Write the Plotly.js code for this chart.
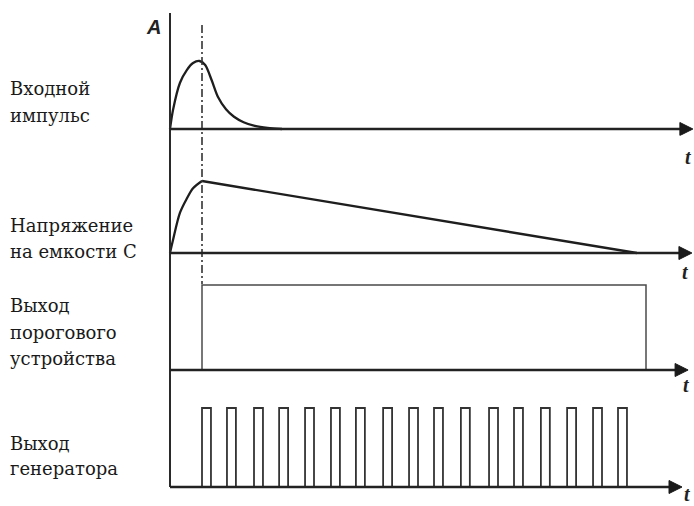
<!DOCTYPE html>
<html><head><meta charset="utf-8">
<script src="https://cdn.plot.ly/plotly-3.0.1.min.js"></script>
<style>html,body{margin:0;padding:0;background:#fff}</style>
</head><body>
<div id="chart" style="width:694px;height:506px"></div>
<script>
// Panel 1: input pulse
const tIn = [0, 0.094, 0.3125, 0.53, 0.72, 0.92, 1.1, 1.3, 1.5, 1.75, 2.0, 2.3, 2.65, 3.05, 3.5];
const vIn = [0, 0.28, 0.68, 0.87, 0.97, 1.0, 0.94, 0.72, 0.47, 0.29, 0.18, 0.10, 0.045, 0.015, 0];
// Panel 2: capacitor voltage (charge, then linear discharge)
const tCapRise = [0, 0.094, 0.3125, 0.53, 0.72, 1.0];
const vCapRise = [0, 0.18, 0.56, 0.76, 0.90, 1.0];
const tCapFall = [1.0, 14.59];
const vCapFall = [1.0, 0];
// Panel 3: threshold device output
const tThrOn = 1.0, tThrOff = 14.875, vThr = 1;
// Panel 4: generator pulses
const pulseStart = [1.0, 1.78, 2.625, 3.41, 4.22, 5.03, 5.81, 6.66, 7.47, 8.25, 9.09, 9.97, 10.75, 11.59, 12.41, 13.22, 14.0];
const pulseWidth = 0.28;
const pulseHeight = 1;
// Labels
const rowLabels = [
  ["Входной", 88], ["импульс", 116],
  ["Напряжение", 225], ["на емкости С", 252],
  ["Выход", 305], ["порогового", 332], ["устройства", 358],
  ["Выход", 443], ["генератора", 468]
];
const axisArrowTips = [16.34, 16.31, 16.19, 16.0];
const tLabelPos = [[688,157],[685,272],[686,385],[687,494]];

const W = 694, H = 506, ML = 164, MR = 0, MT = 5, MB = 5;
const plotW = W - ML - MR, plotH = H - MT - MB;
const py = p => (H - MB - p) / plotH;   // pixel y -> paper
const px = p => (p - ML) / plotW;       // pixel x -> paper

const pulseX = [], pulseY = [];
pulseStart.forEach(s => { pulseX.push(s, s, s + pulseWidth, s + pulseWidth, null); pulseY.push(0, pulseHeight, pulseHeight, 0, null); });

const traces = [
  {x: tIn, y: vIn, xaxis: 'x', yaxis: 'y', mode: 'lines', line: {color: '#1e1e1e', width: 2.3, shape: 'spline', smoothing: 0.8}},
  {x: tCapRise, y: vCapRise, xaxis: 'x', yaxis: 'y2', mode: 'lines', line: {color: '#1e1e1e', width: 2.3, shape: 'spline', smoothing: 0.9}},
  {x: tCapFall, y: vCapFall, xaxis: 'x', yaxis: 'y2', mode: 'lines', line: {color: '#1e1e1e', width: 2.4}},
  {x: [tThrOn, tThrOn, tThrOff, tThrOff], y: [0, vThr, vThr, 0], xaxis: 'x', yaxis: 'y3', mode: 'lines', line: {color: '#4a4a4a', width: 1.5}},
  {x: pulseX, y: pulseY, xaxis: 'x', yaxis: 'y4', mode: 'lines', line: {color: '#333', width: 1.8}}
];

const yax = (d) => ({domain: d, range: [-0.1, 1.2], visible: false, fixedrange: true, anchor: 'x'});
const yrefs = ['y', 'y2', 'y3', 'y4'];
const shapes = [];
// vertical axis
shapes.push({type: 'line', xref: 'x', yref: 'paper', x0: 0, x1: 0, y0: py(13), y1: py(487), line: {color: '#2a2a2a', width: 2}});
// dash-dot marker line
shapes.push({type: 'line', xref: 'x', yref: 'paper', x0: 1.0, x1: 1.0, y0: py(25), y1: py(284), line: {color: '#333', width: 1.6, dash: '8px,3px,2px,3px'}});
// baselines and arrowheads
yrefs.forEach((yr, i) => {
  shapes.push({type: 'line', xref: 'x', yref: yr, x0: 0, x1: axisArrowTips[i] - 0.2, y0: 0, y1: 0, line: {color: '#222', width: 2.6}});
  shapes.push({type: 'path', xref: 'x', yref: yr, xsizemode: 'pixel', ysizemode: 'pixel', xanchor: axisArrowTips[i], yanchor: 0,
    path: 'M0,0 L-13,6.5 L-13,-6.5 Z', fillcolor: '#1a1a1a', line: {color: '#1a1a1a', width: 1}});
});

const annotations = [];
rowLabels.forEach(([txt, y]) => annotations.push({text: txt, xref: 'paper', yref: 'paper', x: px(8), y: py(y), xanchor: 'left', yanchor: 'middle', showarrow: false,
  font: {family: 'DejaVu Serif', size: 18, color: '#1a1a1a'}}));
annotations.push({text: 'A', xref: 'paper', yref: 'paper', x: px(153), y: py(27), xanchor: 'center', yanchor: 'middle', showarrow: false,
  font: {family: 'Liberation Sans, Arial', size: 20, color: '#222', weight: 'bold', style: 'italic'}});
tLabelPos.forEach(([x, y]) => annotations.push({text: 't', xref: 'paper', yref: 'paper', x: px(x), y: py(y), xanchor: 'center', yanchor: 'middle', showarrow: false,
  font: {family: 'Liberation Serif, Times New Roman', size: 20, color: '#222', weight: 'bold', style: 'italic'}}));

const layout = {
  width: W, height: H, margin: {l: ML, r: MR, t: MT, b: MB, pad: 0},
  paper_bgcolor: '#fff', plot_bgcolor: '#fff', showlegend: false,
  xaxis: {range: [-0.1875, 16.375], visible: false, fixedrange: true, anchor: 'y4'},
  yaxis: yax([py(135.8), py(47.4)]),
  yaxis2: yax([py(260.2), py(166.6)]),
  yaxis3: yax([py(378.5), py(268)]),
  yaxis4: yax([py(494.9), py(392.2)]),
  shapes: shapes, annotations: annotations
};
Plotly.newPlot('chart', traces, layout, {displayModeBar: false, staticPlot: true});
</script>
</body></html>
